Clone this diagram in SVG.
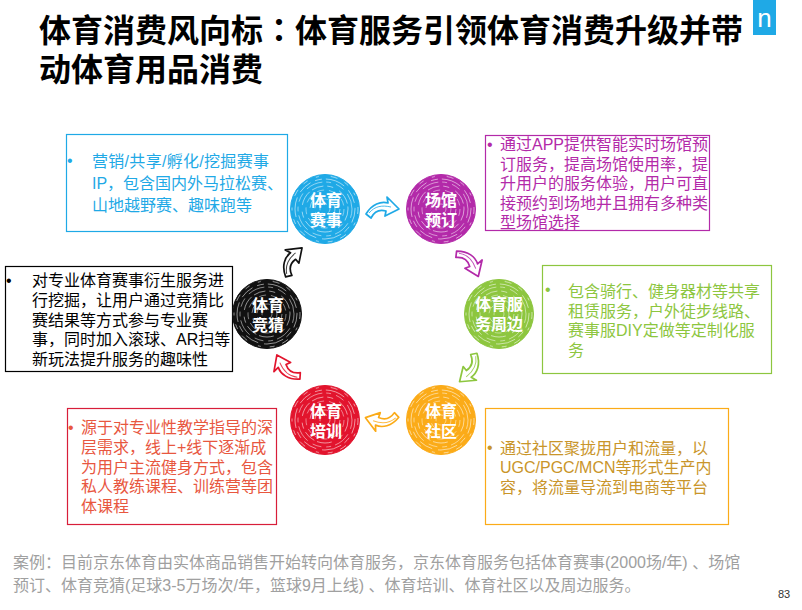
<svg xmlns="http://www.w3.org/2000/svg" width="802" height="610" viewBox="0 0 802 610">
<style>
text{font-family:"Liberation Sans","Noto Sans CJK SC",sans-serif}
.t{font-size:16px}
.title{font-family:"Liberation Sans","Noto Sans CJK SC",sans-serif;font-size:32px;font-weight:700;fill:#000}
.lab{font-size:16px;font-weight:700;fill:#fff;text-anchor:middle}
.foot{font-size:16px;fill:#a0a0a0}
.box{fill:#fff;stroke-width:1.2}
.arr{fill:#fff;stroke-width:1.7;stroke-linejoin:round}
.arrin{fill:none;stroke-width:1;opacity:.8}
.blue{fill:#1fa9e6;stroke:#1fa9e6}.pur{fill:#b32aa9;stroke:#b32aa9}.grn{fill:#8dc63f;stroke:#8dc63f}.org{fill:#fbab18;stroke:#fbab18}.red{fill:#e2142d;stroke:#e2142d}.blk{fill:#111;stroke:#111}
.sc circle{fill:none;stroke:#fff}
</style>
<defs>
<g id="scr" class="sc">
<circle r="33" stroke-width="1" stroke-opacity=".55" stroke-dasharray="5 9 3 12 7 8"/>
<circle r="30" stroke-width=".9" stroke-opacity=".6" stroke-dasharray="14 5 7 4 20 6"/>
<circle r="27" stroke-width=".9" stroke-opacity=".55" stroke-dasharray="9 6 17 4 5 5"/>
<circle r="23" stroke-width=".9" stroke-opacity=".6" stroke-dasharray="12 4 6 7 15 3"/>
<circle r="19" stroke-width=".9" stroke-opacity=".5" stroke-dasharray="7 5 11 4"/>
<circle r="15" stroke-width=".9" stroke-opacity=".55" stroke-dasharray="10 3 5 6"/>
<circle r="10" stroke-width=".9" stroke-opacity=".5" stroke-dasharray="6 4 9 3"/>
<circle r="5" stroke-width=".9" stroke-opacity=".5" stroke-dasharray="4 3"/>
</g>
<path id="ah" d="M-16,7 C-10,-3 -1,-6 6,-4 L5,-10 L17,2 L3,9 L4,4 C-3,2 -8,5 -11,11 Z"/>
<path id="ai" d="M-13,6 C-7,-1 0,-2 9,0"/>
</defs>

<text class="title" x="39" y="42">体育消费风向标<tspan style="font-family:'Noto Sans CJK TC',sans-serif">：</tspan>体育服务引领体育消费升级并带<tspan x="39" y="81">动体育用品消费</tspan></text>

<g id="logo"><rect x="753" y="0" width="23" height="35" fill="#1fa9e6"/><text x="764.500" y="27" text-anchor="middle" font-size="26" fill="#fff">n</text></g>

<g id="box-blue" fill="#1fa9e6">
<rect class="box" x="66.500" y="134.500" width="221" height="97" stroke="#1fa9e6"/>
<text class="t" x="67" y="166">•</text>
<text class="t"><tspan x="92" y="167" letter-spacing=".3">营销/共享/孵化/挖掘赛事</tspan><tspan x="92" y="189">IP，包含国内外马拉松赛、</tspan><tspan x="92" y="211">山地越野赛、趣味跑等</tspan></text>
</g>
<g id="box-purple" fill="#b32aa9">
<rect class="box" x="485.500" y="135.500" width="224" height="95" stroke="#b32aa9"/>
<text class="t" x="487" y="150">•</text>
<text class="t"><tspan x="500" y="150">通过APP提供智能实时场馆预</tspan><tspan x="500" y="170">订服务，提高场馆使用率，提</tspan><tspan x="500" y="189">升用户的服务体验，用户可直</tspan><tspan x="500" y="209">接预约到场地并且拥有多种类</tspan><tspan x="500" y="228">型场馆选择</tspan></text>
</g>
<g id="box-green" fill="#8dc63f">
<rect class="box" x="542.500" y="265.500" width="229" height="108" stroke="#8dc63f"/>
<text class="t" x="545" y="295">•</text>
<text class="t"><tspan x="568" y="297">包含骑行、健身器材等共享</tspan><tspan x="568" y="317">租赁服务，户外徒步线路、</tspan><tspan x="568" y="336">赛事服DIY定做等定制化服</tspan><tspan x="568" y="356">务</tspan></text>
</g>
<g id="box-orange" fill="#c9952a">
<rect class="box" x="485.500" y="408.500" width="243" height="116" stroke="#fbab18"/>
<text class="t" x="487" y="453">•</text>
<text class="t"><tspan x="500" y="454">通过社区聚拢用户和流量，以</tspan><tspan x="500" y="473">UGC/PGC/MCN等形式生产内</tspan><tspan x="500" y="493">容，将流量导流到电商等平台</tspan></text>
</g>
<g id="box-red" fill="#e8573f">
<rect class="box" x="67.500" y="408.500" width="209" height="116" stroke="#d81e3a"/>
<text class="t" x="68" y="433">•</text>
<text class="t"><tspan x="81" y="433">源于对专业性教学指导的深</tspan><tspan x="81" y="453">层需求，线上+线下逐渐成</tspan><tspan x="81" y="473">为用户主流健身方式，包含</tspan><tspan x="81" y="492">私人教练课程、训练营等团</tspan><tspan x="81" y="512">体课程</tspan></text>
</g>
<g id="box-black" fill="#000">
<rect class="box" x="5.500" y="266.500" width="227" height="105" stroke="#000"/>
<text class="t" x="6" y="286">•</text>
<text class="t"><tspan x="32" y="286">对专业体育赛事衍生服务进</tspan><tspan x="32" y="306">行挖掘，让用户通过竞猜比</tspan><tspan x="32" y="326">赛结果等方式参与专业赛</tspan><tspan x="32" y="345">事，同时加入滚球、AR扫等</tspan><tspan x="32" y="365">新玩法提升服务的趣味性</tspan></text>
</g>

<g id="connectors">
<g transform="translate(382,207)"><use href="#ah" class="arr" stroke="#1fa9e6"/><use href="#ai" class="arrin" stroke="#1fa9e6"/></g>
<g transform="translate(471,261) rotate(58)"><use href="#ah" class="arr" stroke="#b32aa9"/><use href="#ai" class="arrin" stroke="#b32aa9"/></g>
<g transform="translate(472,370) rotate(130)"><use href="#ah" class="arr" stroke="#8dc63f"/><use href="#ai" class="arrin" stroke="#8dc63f"/></g>
<g transform="translate(382,422) rotate(188)"><use href="#ah" class="arr" stroke="#fbab18"/><use href="#ai" class="arrin" stroke="#fbab18"/></g>
<g transform="translate(285,370) rotate(235)"><use href="#ah" class="arr" stroke="#e2142d"/><use href="#ai" class="arrin" stroke="#e2142d"/></g>
<g transform="translate(290,260) rotate(-52)"><use href="#ah" class="arr" stroke="#111"/><use href="#ai" class="arrin" stroke="#111"/></g>
</g>

<g id="node-saishi"><circle cx="325" cy="209" r="34.500" class="blue"/><use href="#scr" x="325" y="209"/><text class="lab"><tspan x="326" y="206">体育</tspan><tspan x="326" y="226">赛事</tspan></text></g>
<g id="node-changguan"><circle cx="441" cy="209" r="34.500" class="pur"/><use href="#scr" x="441" y="209"/><text class="lab"><tspan x="441" y="206">场馆</tspan><tspan x="441" y="226">预订</tspan></text></g>
<g id="node-zhoubian"><circle cx="499" cy="314" r="34.500" class="grn"/><use href="#scr" x="499" y="314"/><text class="lab"><tspan x="499" y="310">体育服</tspan><tspan x="499" y="330">务周边</tspan></text></g>
<g id="node-shequ"><circle cx="441" cy="420" r="34.500" class="org"/><use href="#scr" x="441" y="420"/><text class="lab"><tspan x="441" y="417">体育</tspan><tspan x="441" y="437">社区</tspan></text></g>
<g id="node-peixun"><circle cx="325" cy="420" r="34.500" class="red"/><use href="#scr" x="325" y="420"/><text class="lab"><tspan x="326" y="417">体育</tspan><tspan x="326" y="437">培训</tspan></text></g>
<g id="node-jingcai"><circle cx="267" cy="314" r="34.500" class="blk"/><use href="#scr" x="267" y="314"/><text class="lab"><tspan x="268" y="311">体育</tspan><tspan x="268" y="331">竞猜</tspan></text></g>

<g id="footer">
<text class="foot"><tspan x="13" y="568">案例：目前京东体育由实体商品销售开始转向体育服务，京东体育服务包括体育赛事(2000场/年) 、场馆</tspan><tspan x="13" y="591">预订、体育竞猜(足球3-5万场次/年，篮球9月上线) 、体育培训、体育社区以及周边服务。</tspan></text>
<text x="784" y="598" text-anchor="middle" font-size="11" fill="#333">83</text>
</g>
</svg>
